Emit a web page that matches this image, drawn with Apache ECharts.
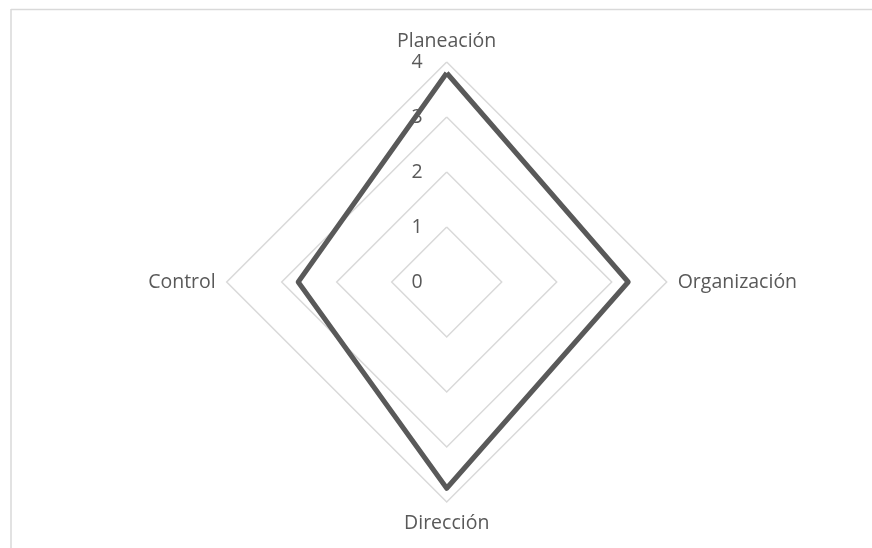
<!DOCTYPE html>
<html>
<head>
<meta charset="utf-8">
<script src="https://cdn.jsdelivr.net/npm/echarts@6/dist/echarts.min.js"></script>
<style>html,body{margin:0;padding:0;background:#fff;}#c{width:872px;height:548px;}</style>
</head>
<body>
<div id="c"></div>
<script>
// Indicators in visual clockwise order from top
const categories = ['Planeación', 'Organización', 'Dirección', 'Control'];
const values = [3.8, 3.3, 3.75, 2.7];
const axisMax = 4;
const tickLabels = ['0', '1', '2', '3', '4'];

// ECharts places indicators counter-clockwise: reorder top, left, bottom, right
const order = [0, 3, 2, 1];
const indicator = order.map((i, k) => ({
  name: categories[i], max: axisMax, min: 0,
  axisLabel: { show: k === 0 }
}));
const data = order.map(i => values[i]);

const FONT = 'Open Sans';
const chart = echarts.init(document.getElementById('c'), null, { renderer: 'canvas' });
chart.setOption({
  animation: false,
  backgroundColor: '#ffffff',
  graphic: [
    { type: 'line', shape: { x1: 11, y1: 9.5, x2: 872, y2: 9.5 }, style: { stroke: '#d9d9d9', lineWidth: 1.5 } },
    { type: 'line', shape: { x1: 11, y1: 9, x2: 11, y2: 548 }, style: { stroke: '#d9d9d9', lineWidth: 1.5 } }
  ],
  radar: {
    center: [446.7, 282],
    radius: 220,
    startAngle: 90,
    shape: 'polygon',
    splitNumber: 4,
    indicator: indicator,
    axisName: { color: '#595959', fontFamily: FONT, fontSize: 19.5 },
    nameGap: 11,
    splitArea: { show: false },
    splitLine: { lineStyle: { color: '#d9d9d9', width: 1.5 } },
    axisLine: { show: false },
    axisTick: { show: false },
    axisLabel: {
      show: true, color: '#595959', fontFamily: FONT, fontSize: 19.5, margin: 24,
      formatter: (v) => tickLabels[Math.round(v)] ?? String(v)
    }
  },
  series: [{
    type: 'radar',
    symbol: 'none',
    lineStyle: { color: '#595959', width: 5 },
    areaStyle: null,
    data: [{ value: data }]
  }]
});
</script>
</body>
</html>
